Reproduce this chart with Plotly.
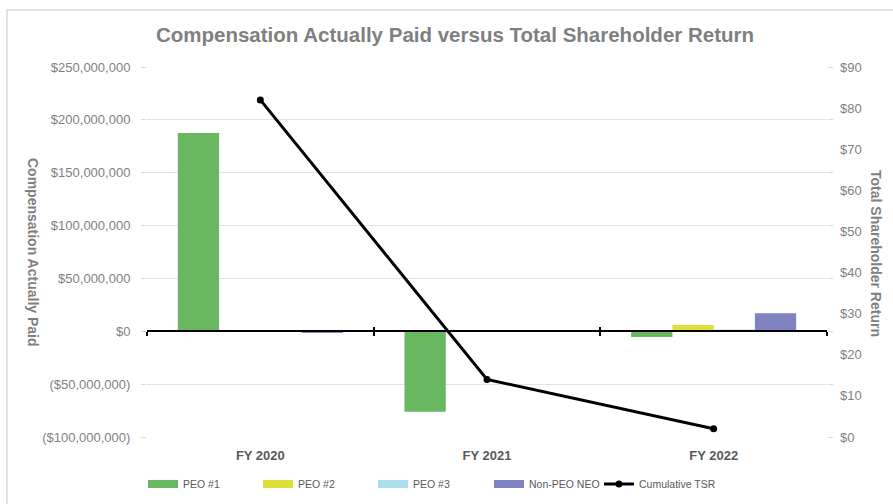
import plotly.graph_objects as go

categories = ["FY 2020", "FY 2021", "FY 2022"]
peo1 = [187500000, -76000000, -5500000]
peo2 = [None, None, 6000000]
peo3 = [None, None, 1800000]
non_peo_neo = [-1200000, 0, 17000000]
cumulative_tsr = [82, 14, 2]

left_tickvals = [-100000000, -50000000, 0, 50000000, 100000000, 150000000, 200000000, 250000000]
left_ticktext = ["($100,000,000)", "($50,000,000)", "$0", "$50,000,000", "$100,000,000",
                 "$150,000,000", "$200,000,000", "$250,000,000"]
right_tickvals = [0, 10, 20, 30, 40, 50, 60, 70, 80, 90]
right_ticktext = ["$0", "$10", "$20", "$30", "$40", "$50", "$60", "$70", "$80", "$90"]

series_names = ["PEO #1", "PEO #2", "PEO #3", "Non-PEO NEO"]
series_vals = [peo1, peo2, peo3, non_peo_neo]
series_colors = ["#6AB761", "#DFDF38", "#ABDDEB", "#7F83C1"]

FONT = "Liberation Sans, Arial, sans-serif"
GRAY = "#7F7F7F"

legend_ids = ["legend", "legend2", "legend3", "legend4", "legend5"]
legend_x_px = [143, 258, 373, 489, 599]

fig = go.Figure()
for i, (name, vals, col) in enumerate(zip(series_names, series_vals, series_colors)):
    fig.add_trace(go.Bar(x=categories, y=vals, name=name, marker_color=col,
                         marker_line_width=0, showlegend=False))
    # legend swatch (wide short rectangle like the original)
    fig.add_trace(go.Scatter(x=[None], y=[None], mode="lines", name=name,
                             line=dict(color=col, width=8), hoverinfo="skip",
                             legend=legend_ids[i]))

fig.add_trace(go.Scatter(x=categories, y=cumulative_tsr, name="Cumulative TSR",
                         mode="lines+markers", yaxis="y2", legend=legend_ids[4],
                         line=dict(color="black", width=3),
                         marker=dict(color="black", size=7)))

# helper traces to render the category axis drawn at zero
fig.add_trace(go.Scatter(x=categories, y=[None] * 3, xaxis="x3", showlegend=False, hoverinfo="skip"))
fig.add_trace(go.Scatter(x=categories, y=[None] * 3, xaxis="x4", showlegend=False, hoverinfo="skip"))

zero_pos = 100 / 350
legend_font = dict(size=10.5, color="#595959", family=FONT)

legends = {}
for lid, px in zip(legend_ids, legend_x_px):
    legends[lid] = dict(orientation="h", xref="container", yref="container",
                        x=px / 893, xanchor="left", y=1 - 484 / 504, yanchor="middle",
                        font=legend_font, bgcolor="rgba(0,0,0,0)")

fig.update_layout(
    width=893, height=504,
    margin=dict(l=147, r=66, t=67, b=67, autoexpand=False),
    paper_bgcolor="white", plot_bgcolor="white",
    barmode="group", bargap=0.272, bargroupgap=0,
    font=dict(family=FONT, color=GRAY, size=13),
    title=dict(text="<b>Compensation Actually Paid versus Total Shareholder Return</b>",
               x=455 / 893, xanchor="center", y=1 - 35 / 504, yanchor="middle",
               font=dict(size=20.5, color=GRAY, family=FONT)),
    xaxis=dict(type="category", categoryarray=categories, range=[-0.5, 2.5],
               showline=False, ticks="", showgrid=False, zeroline=False,
               tickfont=dict(size=13, color="#595959", family=FONT),
               ticklabelstandoff=9, tickprefix="<b>", ticksuffix="</b>"),
    xaxis3=dict(type="category", categoryarray=categories, range=[-0.5, 2.5],
                overlaying="x", anchor="free", position=zero_pos,
                showline=True, linecolor="black", linewidth=2,
                ticks="outside", tickson="boundaries", ticklen=4, tickwidth=2,
                tickcolor="black", showticklabels=False, showgrid=False, zeroline=False),
    xaxis4=dict(type="category", categoryarray=categories, range=[-0.5, 2.5],
                overlaying="x", anchor="free", position=zero_pos,
                showline=False, ticks="inside", tickson="boundaries", ticklen=4, tickwidth=2,
                tickcolor="black", showticklabels=False, showgrid=False, zeroline=False),
    yaxis=dict(range=[-100000000, 250000000], tickvals=left_tickvals, ticktext=left_ticktext,
               showgrid=True, gridcolor="#E3E3E3", gridwidth=1, zeroline=False,
               ticks="outside", ticklen=5, tickcolor="#D9D9D9", mirror="ticks",
               ticklabelstandoff=8,
               tickfont=dict(size=13, color=GRAY)),
    yaxis2=dict(range=[0, 90], tickvals=right_tickvals, ticktext=right_ticktext,
                overlaying="y", side="right", showgrid=False, zeroline=False,
                ticks="", ticklabelstandoff=12,
                tickfont=dict(size=13, color=GRAY)),
    annotations=[
        dict(text="<b>Compensation Actually Paid</b>", xref="paper", yref="paper",
             x=(33 - 147) / 680, y=(437 - 252) / 370, textangle=90, showarrow=False,
             xanchor="center", yanchor="middle", font=dict(size=14, color=GRAY, family=FONT)),
        dict(text="<b>Total Shareholder Return</b>", xref="paper", yref="paper",
             x=(876 - 147) / 680, y=(437 - 253) / 370, textangle=90, showarrow=False,
             xanchor="center", yanchor="middle", font=dict(size=14, color=GRAY, family=FONT)),
    ],
    shapes=[dict(type="rect", xref="paper", yref="paper",
                 x0=(7 - 147) / 680, x1=(900 - 147) / 680,
                 y0=(437 - 510) / 370, y1=(437 - 10) / 370,
                 line=dict(color="#D9D9D9", width=1.5), layer="below")],
    **legends,
)

fig.write_html("out.html")
